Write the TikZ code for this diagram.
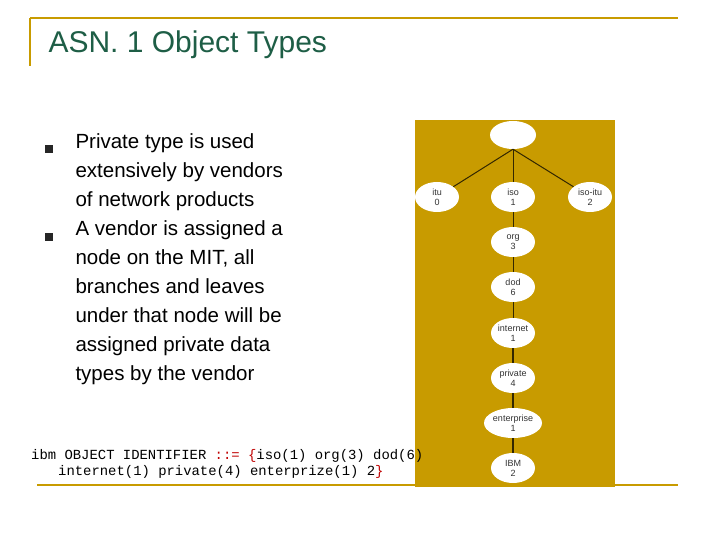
\documentclass[tikz,border=0pt]{standalone}
\usepackage{fontspec}
\setmainfont{Liberation Sans}
\setmonofont{Liberation Mono}
\definecolor{gold}{HTML}{C89B00}
\definecolor{ttl}{HTML}{1E5E46}
\definecolor{codered}{HTML}{C00000}
\begin{document}
\begin{tikzpicture}[x=1pt,y=-1pt,
  nd/.style={ellipse,fill=white,minimum width=44pt,minimum height=30pt,inner sep=0pt,align=center,font=\fontsize{9}{10}\selectfont,text=black!80},
  ln/.style={draw=black!75!gold,line width=1pt},
  bul/.style={fill=black!85,minimum size=8pt,inner sep=0pt},
  txt/.style={anchor=north west,align=left,font=\fontsize{20.5}{29}\selectfont}]
\usetikzlibrary{shapes.geometric}
\useasboundingbox (0,0) rectangle (720,540);
\fill[white] (0,0) rectangle (720,540);
\draw[gold,line width=2pt] (30,18) -- (678,18);
\draw[gold,line width=2pt] (30,18) -- (30,66);
\fill[gold] (415,120) rectangle (615,487);
\draw[gold,line width=2pt] (37,485) -- (678,485);
\node[anchor=west,text=ttl,font=\fontsize{30}{34}\selectfont] (title) at (45,45) {ASN. 1 Object Types};
\node[bul] (b1) at (49,149) {};
\node[bul] (b2) at (49,237) {};
\node[txt] (t1) at (72,130) {Private type is used\\extensively by vendors\\of network products};
\node[txt] (t2) at (72,217) {A vendor is assigned a\\node on the MIT, all\\branches and leaves\\under that node will be\\assigned private data\\types by the vendor};
\node[nd,minimum width=46pt,minimum height=28pt] (root) at (513,135) {};
\node[nd] (itu) at (437,197) {itu\\0};
\node[nd] (iso) at (513,197) {iso\\1};
\node[nd] (isoitu) at (590,197) {iso-itu\\2};
\node[nd] (org) at (513,242) {org\\3};
\node[nd] (dod) at (513,287) {dod\\6};
\node[nd] (inet) at (513,333) {internet\\1};
\node[nd] (priv) at (513,378) {private\\4};
\node[nd,minimum width=58pt] (ent) at (513,423) {enterprise\\1};
\node[nd] (ibm) at (513,468) {IBM\\2};
\draw[ln] (root.south) -- (itu); \draw[ln] (root.south) -- (iso); \draw[ln] (root.south) -- (isoitu);
\draw[ln,line width=0.6pt] (iso) -- (org); \draw[ln,line width=0.6pt] (org) -- (dod); \draw[ln,line width=0.6pt] (dod) -- (inet);
\draw[ln,line width=1.6pt] (inet) -- (priv); \draw[ln,line width=1.6pt] (priv) -- (ent); \draw[ln,line width=1.6pt] (ent) -- (ibm);
\node[anchor=west,font=\ttfamily\fontsize{13.9}{15}\selectfont,inner sep=0pt] (c1) at (31,456) {ibm OBJECT IDENTIFIER \textcolor{codered}{::= \{}iso(1) org(3) dod(6)};
\node[anchor=west,font=\ttfamily\fontsize{13.9}{15}\selectfont,inner sep=0pt] (c2) at (58,472) {internet(1) private(4) enterprize(1) 2\textcolor{codered}{\}}};
\end{tikzpicture}
\end{document}
